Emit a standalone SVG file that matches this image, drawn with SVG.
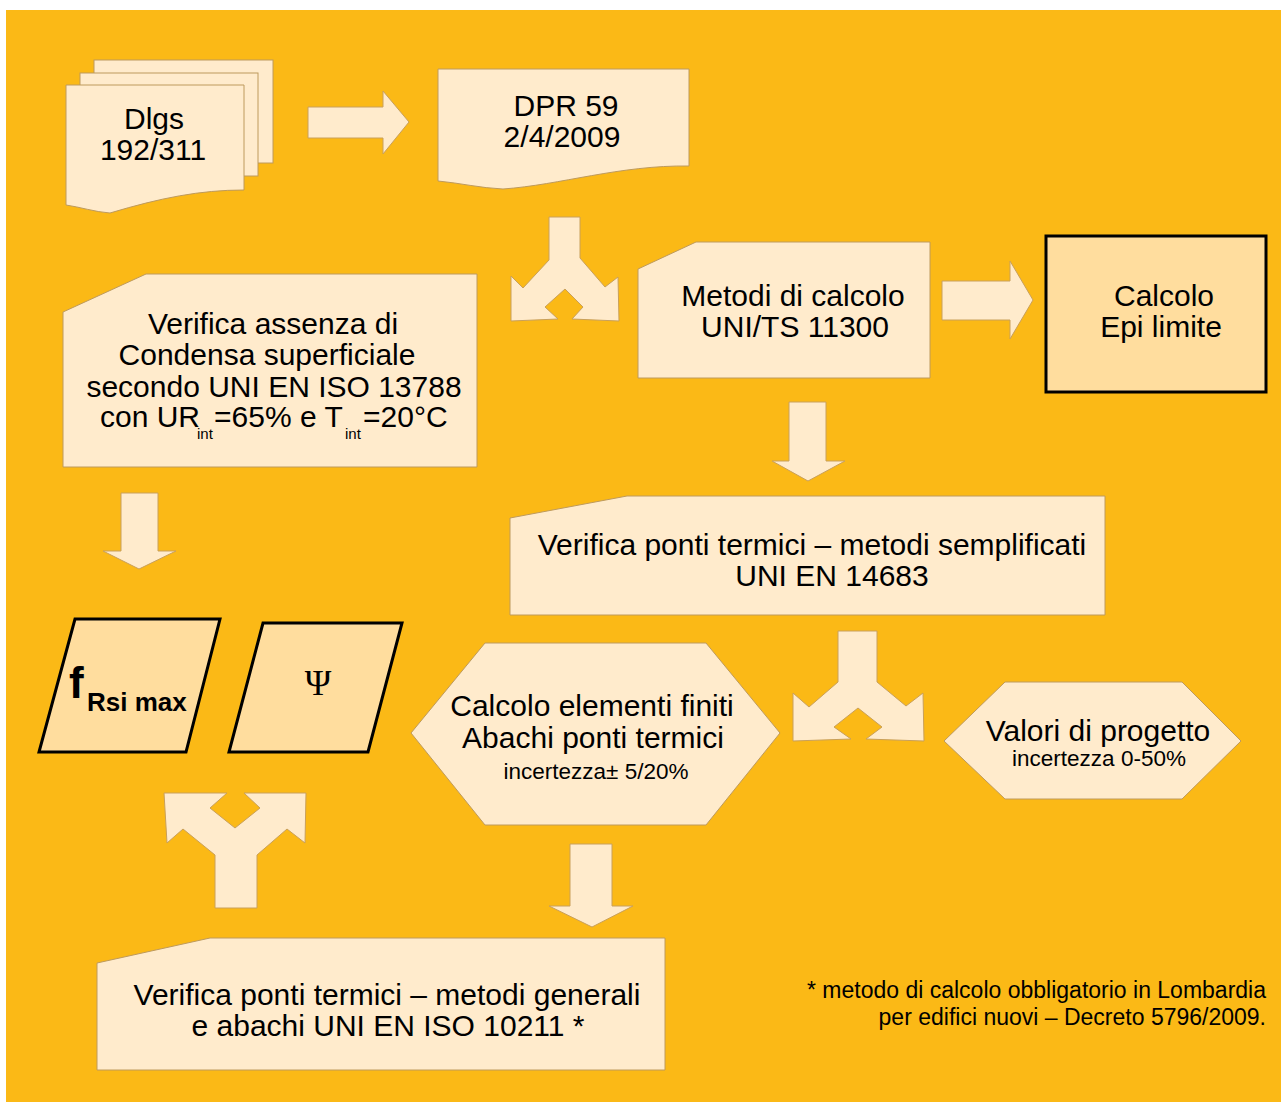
<svg xmlns="http://www.w3.org/2000/svg" width="1281" height="1102" viewBox="0 0 1281 1102">
<style>
.sh{fill:#FFEBCC;stroke:#BE9A5C;stroke-width:1}
.bold{fill:#FFDD9E;stroke:#000;stroke-width:3}
.ar{fill:#FFEBCC;stroke:#C9A05A;stroke-width:1}
text{font-family:"Liberation Sans",Arial,sans-serif;fill:#000}
.t{font-size:30px;text-anchor:middle}
.s{font-size:22.5px;text-anchor:middle}
.m{font-size:30px}
.sub{font-size:15px}
</style>
<rect x="0" y="0" width="1281" height="1102" fill="#fff"/>
<rect x="6" y="10" width="1275" height="1092" fill="#FBB916"/>

<g id="dlgs">
<rect class="sh" x="94" y="60" width="179" height="103"/>
<rect class="sh" x="80" y="73" width="178" height="103"/>
<path class="sh" d="M66,85 H244 V190 C200,190 160,198 110,213 C95,212 80,207 66,205 Z"/>
<text class="t" x="154" y="129">Dlgs</text>
<text class="t" x="153" y="160">192/311</text>
</g>

<g id="dpr">
<path class="sh" d="M438,69 H689 V166 C620,165 560,185 503,189 C480,188 460,183 438,181 Z"/>
<text class="t" x="566" y="116">DPR 59</text>
<text class="t" x="562" y="147">2/4/2009</text>
</g>

<g id="metodi">
<path class="sh" d="M638,269 L696,242 H930 V378 H638 Z"/>
<text class="t" x="793" y="306">Metodi di calcolo</text>
<text class="t" x="795" y="337">UNI/TS 11300</text>
</g>

<g id="epi">
<rect class="bold" x="1046" y="236" width="220" height="156"/>
<text class="t" x="1164" y="306">Calcolo</text>
<text class="t" x="1161" y="337">Epi limite</text>
</g>

<g id="condensa">
<path class="sh" d="M63,312 L146,274 H477 V467 H63 Z"/>
<text class="t" x="273" y="334">Verifica assenza di</text>
<text class="t" x="267" y="365">Condensa superficiale</text>
<text class="t" x="274" y="397">secondo UNI EN ISO 13788</text>
<text class="m" x="100" y="427">con UR</text>
<text class="sub" x="197" y="439">int</text>
<text class="m" x="214" y="427">=65% e T</text>
<text class="sub" x="345" y="439">int</text>
<text class="m" x="363" y="427">=20°C</text>
</g>

<g id="frsi">
<path class="bold" d="M75,619 H220 L186,752 H39 Z"/>
<text x="69" y="698" style="font-size:44px;font-weight:bold">f</text>
<text x="87" y="711" style="font-size:26px;font-weight:bold">Rsi max</text>
</g>

<g id="psi">
<path class="bold" d="M263,623 H402 L368,752 H229 Z"/>
<text x="318" y="695" style="font-family:'Liberation Serif','DejaVu Serif',serif;font-size:36px;text-anchor:middle">Ψ</text>
</g>

<g id="semplificati">
<path class="sh" d="M510,518 L627,496 H1105 V615 H510 Z"/>
<text class="t" x="812" y="555">Verifica ponti termici – metodi semplificati</text>
<text class="t" x="832" y="586">UNI EN 14683</text>
</g>

<g id="elementi">
<path class="sh" d="M411,733 L485,643 H706 L780,733 L706,825 H485 Z"/>
<text class="t" x="592" y="716">Calcolo elementi finiti</text>
<text class="t" x="593" y="748">Abachi ponti termici</text>
<text class="s" x="596" y="779">incertezza± 5/20%</text>
</g>

<g id="valori">
<path class="sh" d="M944,741 L1005,682 H1182 L1241,741 L1182,799 H1005 Z"/>
<text class="t" x="1098" y="741">Valori di progetto</text>
<text class="s" x="1099" y="766">incertezza 0-50%</text>
</g>

<g id="generali">
<path class="sh" d="M97,963 L210,938 H665 V1070 H97 Z"/>
<text class="t" x="387" y="1005">Verifica ponti termici – metodi generali</text>
<text class="t" x="388" y="1036">e abachi UNI EN ISO 10211 *</text>
</g>

<g id="note">
<text x="1266" y="998" style="font-size:23px;text-anchor:end">* metodo di calcolo obbligatorio in Lombardia</text>
<text x="1266" y="1025" style="font-size:23px;text-anchor:end">per edifici nuovi – Decreto 5796/2009.</text>
</g>

<g id="connectors">
<path class="ar" d="M308,107 H383 V91 L409,122 L383,154 V138 H308 Z"/>
<path class="ar" d="M549,217 H580 V258 L605,287 L618,277 L619,321 L572,319 L583,307 L565,289 L545,307 L558,319 L511,321 L511,276 L523,288 L549,260 Z"/>
<path class="ar" d="M942,281 H1010 V261 L1033,300 L1010,339 V320 H942 Z"/>
<path class="ar" d="M121,493 H158 V551 H176 L139,569 L103,551 H121 Z"/>
<path class="ar" d="M789,402 H826 V461 H845 L808,481 L772,461 H789 Z"/>
<path class="ar" d="M838,631 H877 V682 L906,706 L923,693 L924,741 L866,739 L882,727 L858,708 L834,727 L851,739 L793,741 L793,693 L809,707 L838,682 Z"/>
<path class="ar" d="M215,908 H257 V855 L287,829 L305,843 L306,793 L244,793 L260,808 L235,828 L210,808 L227,793 L164,793 L167,843 L183,829 L215,855 Z"/>
<path class="ar" d="M570,844 H612 V906 H633 L592,927 L549,906 H570 Z"/>
</g>
</svg>
